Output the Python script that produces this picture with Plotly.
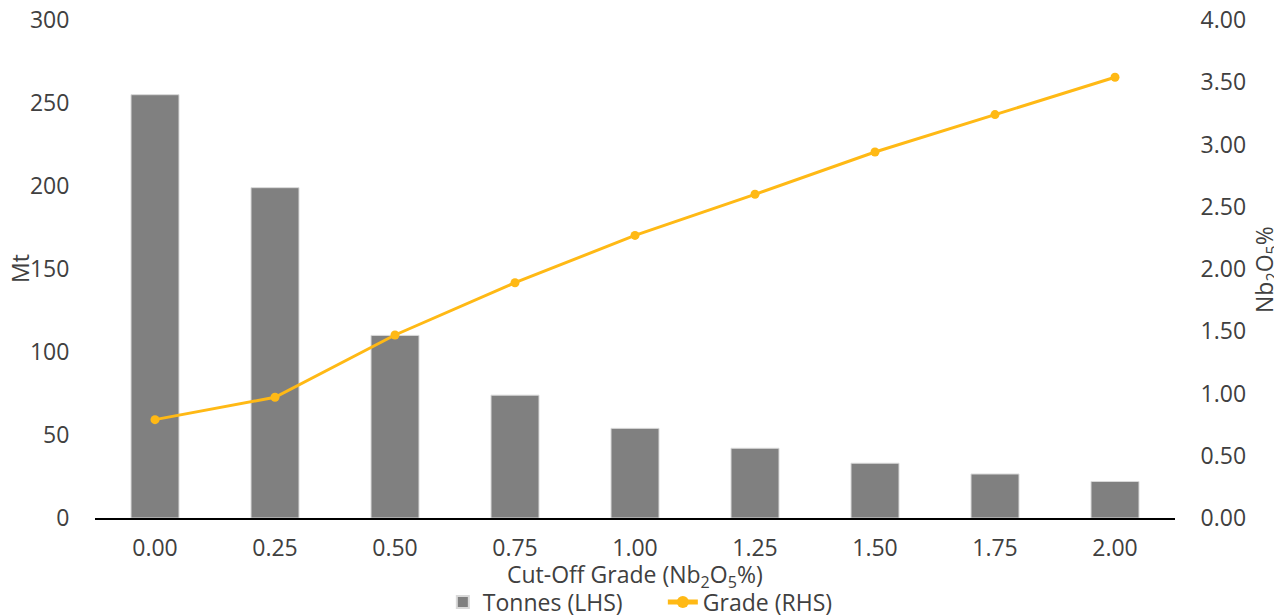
import plotly.graph_objects as go

cutoff = ["0.00", "0.25", "0.50", "0.75", "1.00", "1.25", "1.50", "1.75", "2.00"]
tonnes = [255, 199, 110, 74, 54, 42, 33, 26.5, 22]
grade = [0.79, 0.97, 1.47, 1.89, 2.27, 2.60, 2.94, 3.24, 3.54]

font_family = "'Open Sans', sans-serif"
txt = "#404040"
fs = 23

fig = go.Figure()
fig.add_trace(go.Bar(
    x=cutoff, y=tonnes, name="Tonnes (LHS)",
    marker=dict(color="#808080", line=dict(color="#d9d9d9", width=1)),
    yaxis="y",
))
fig.add_trace(go.Scatter(
    x=cutoff, y=grade, name="Grade (RHS)", mode="lines+markers",
    line=dict(color="#FFB915", width=3),
    marker=dict(color="#FFB915", size=9),
    yaxis="y2",
))

tick_common = dict(ticks="outside", tickcolor="rgba(0,0,0,0)",
                   tickfont=dict(size=fs, color=txt), automargin=False,
                   ticklabeloverflow="allow", showgrid=False)

fig.update_layout(
    width=1274, height=608,
    margin=dict(l=87, r=107, t=12, b=98),
    plot_bgcolor="white", paper_bgcolor="white",
    font=dict(family=font_family, size=fs, color=txt),
    bargap=0.6,
    showlegend=True,
    legend=dict(orientation="h", x=0.514, xanchor="center", xref="container",
                y=0.023, yanchor="middle", yref="container",
                font=dict(size=fs, color=txt), tracegroupgap=0,
                entrywidth=175, entrywidthmode="pixels",
                itemsizing="constant"),
    xaxis=dict(type="category", showline=True, linecolor="black", linewidth=1.5,
               ticklen=9, **tick_common),
    yaxis=dict(range=[0, 300], dtick=50, zeroline=False, showline=False,
               ticklen=20, **tick_common),
    yaxis2=dict(range=[0, 4], dtick=0.5, tickformat=".2f", overlaying="y", side="right",
                zeroline=False, showline=False, ticklen=20, **tick_common),
    annotations=[
        dict(text="Cut-Off Grade (Nb<sub>2</sub>O<sub>5</sub>%)", xref="paper", yref="paper",
             x=0.5, y=-0.115, xanchor="center", yanchor="middle", showarrow=False,
             font=dict(size=fs, color=txt)),
        dict(text="Mt", xref="paper", yref="paper", x=-0.0694, y=0.5,
             xanchor="center", yanchor="middle", textangle=-90, showarrow=False,
             font=dict(size=fs, color=txt)),
        dict(text="Nb<sub>2</sub>O<sub>5</sub>%", xref="paper", yref="paper", x=1.0833, y=0.5,
             xanchor="center", yanchor="middle", textangle=-90, showarrow=False,
             font=dict(size=fs, color=txt)),
    ],
)

fig.write_html("out.html")
